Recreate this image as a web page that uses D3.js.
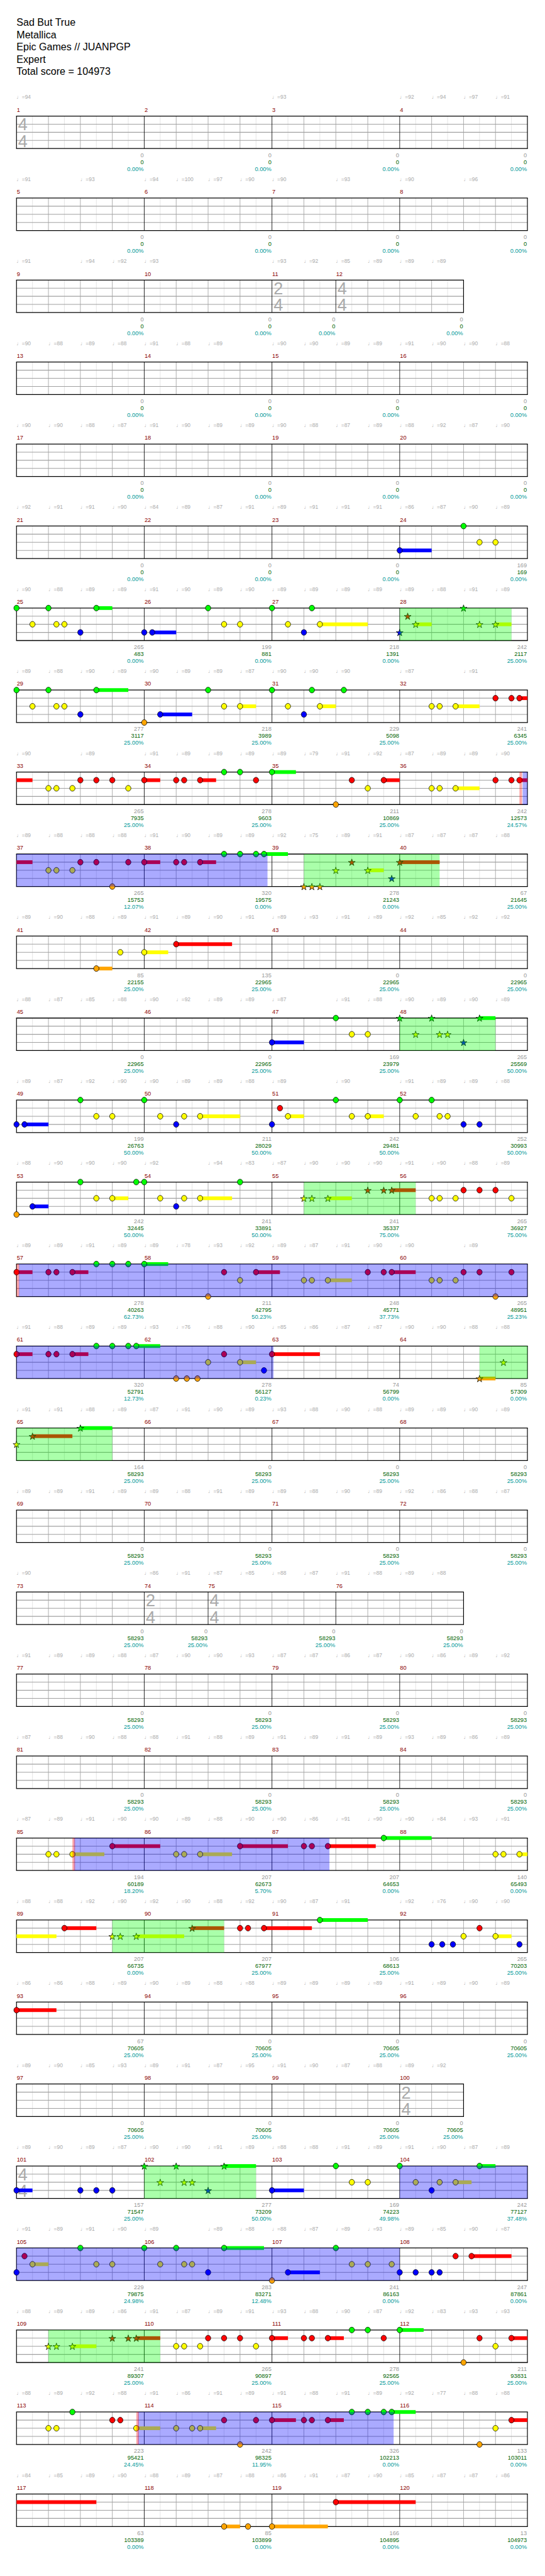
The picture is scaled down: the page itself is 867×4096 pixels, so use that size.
<!DOCTYPE html>
<html><head><meta charset="utf-8">
<script src="https://cdn.jsdelivr.net/npm/d3@7"></script>
<style>body{margin:0;background:#fff}svg{display:block}</style>
</head><body><script>
// ---------------- DATA ----------------
const titleLines = ["Sad But True","Metallica","Epic Games // JUANPGP","Expert","Total score = 104973"];

// [measure, numerator, denominator]
const timeSigs = [[1,4,4],[11,2,4],[12,4,4],[74,2,4],[75,4,4],[100,2,4],[101,4,4]];

// tempo markers per row, one per beat (null = none)
const tempoRows = [
 [94,null,null,null,null,null,null,null,93,null,null,null,92,94,97,91],
 [91,null,93,null,94,100,97,90,90,null,93,null,90,null,96,null],
 [91,null,94,92,93,null,null,null,93,92,85,89,89,89],
 [90,88,89,88,91,88,89,null,90,90,89,89,91,90,90,88],
 [90,90,88,87,91,90,89,89,90,88,87,89,88,92,87,90],
 [92,91,91,90,84,89,87,91,89,91,91,91,86,87,90,89],
 [90,88,89,89,91,90,89,90,89,89,89,89,89,88,91,89],
 [89,88,90,89,90,89,89,87,90,90,90,null,87,null,91,null],
 [90,null,89,null,91,89,89,89,89,79,91,92,87,89,89,90],
 [89,88,88,88,91,90,89,89,92,75,89,91,87,87,87,88],
 [89,90,88,89,91,89,90,91,89,93,91,89,92,85,92,92],
 [88,87,85,88,90,92,89,89,87,null,91,88,90,89,90,89],
 [89,87,92,90,90,89,89,88,89,null,90,null,91,89,89,88],
 [88,90,90,90,92,null,94,83,87,90,90,90,91,90,88,89],
 [89,89,91,89,89,78,93,92,89,87,91,90,90,null,89,null],
 [91,88,89,89,93,76,88,90,85,86,87,87,90,90,88,88],
 [91,91,88,89,87,91,90,89,93,88,90,88,89,89,90,89],
 [89,89,91,89,89,88,91,89,89,88,90,89,92,86,88,87],
 [90,null,null,null,86,91,87,85,88,87,91,88,89,88],
 [91,89,89,88,87,90,90,93,87,87,86,87,90,86,89,92],
 [87,88,90,88,88,91,88,89,91,89,91,89,93,89,86,89],
 [87,89,91,90,90,89,88,90,90,86,91,90,90,84,93,91],
 [88,88,92,90,92,90,88,92,90,87,91,null,92,76,90,90],
 [86,86,88,89,90,89,88,88,89,89,89,89,91,89,90,89],
 [89,90,85,93,89,91,87,95,91,90,87,88,89,92],
 [89,90,89,87,90,90,91,89,88,88,91,89,91,90,87,89],
 [91,89,91,90,89,null,89,88,88,87,89,93,89,85,90,87],
 [88,89,89,86,91,87,89,91,93,88,90,87,92,83,93,93],
 [88,89,92,88,91,86,91,89,91,88,91,89,92,77,88,88],
 [84,85,89,90,88,89,87,88,86,91,87,90,85,87,87,86]
];

// score earned per measure (1..120)
const measureScores = [
 0,0,0,0, 0,0,0,0, 0,0,0,0, 0,0,0,0, 0,0,0,0, 0,0,0,169,
 265,199,218,242, 277,218,229,241, 265,278,211,242, 265,320,278,67,
 85,135,0,0, 0,0,169,265, 199,211,242,252, 242,241,241,265,
 278,211,248,265, 320,278,74,85, 164,0,0,0, 0,0,0,0,
 0,0,0,0, 0,0,0,0, 0,0,0,0, 194,207,207,140,
 207,207,106,265, 67,0,0,0, 0,0,0,0, 157,277,169,242,
 229,283,241,247, 241,265,278,211, 223,242,326,133, 63,85,166,13
];
// cumulative score at end of each measure
const cumulativeScores = [
 0,0,0,0, 0,0,0,0, 0,0,0,0, 0,0,0,0, 0,0,0,0, 0,0,0,169,
 483,881,1391,2117, 3117,3989,5098,6345, 7935,9603,10869,12573, 15753,19575,21243,21645,
 22155,22965,22965,22965, 22965,22965,23979,25569, 26763,28029,29481,30993, 32445,33891,35337,36927,
 40263,42795,45771,48951, 52791,56127,56799,57309, 58293,58293,58293,58293, 58293,58293,58293,58293,
 58293,58293,58293,58293, 58293,58293,58293,58293, 58293,58293,58293,58293, 60189,62673,64653,65493,
 66735,67977,68613,70203, 70605,70605,70605,70605, 70605,70605,70605,70605, 71547,73209,74223,77127,
 79875,83271,86163,87861, 89307,90897,92565,93831, 95421,98325,102213,103011, 103389,103899,104895,104973
];
// star-power meter percentage at end of each measure
const meterPercents = [
 0,0,0,0, 0,0,0,0, 0,0,0,0, 0,0,0,0, 0,0,0,0, 0,0,0,0,
 0,0,0,25, 25,25,25,25, 25,25,25,24.57, 12.07,0,0,25,
 25,25,25,25, 25,25,25,50, 50,50,50,50, 50,50,75,75,
 62.73,50.23,37.73,25.23, 12.73,0.23,0,0, 25,25,25,25, 25,25,25,25,
 25,25,25,25, 25,25,25,25, 25,25,25,25, 18.20,5.70,0,0,
 0,25,25,25, 25,25,25,25, 25,25,25,25, 25,50,49.98,37.48,
 24.98,12.48,0,0, 25,25,25,25, 24.45,11.95,0,0, 0,0,0,0
];

// notes: [measure, beat in measure, lane (0 green .. 4 orange), sustain length in beats]
const notes = [
 [24,0,3,1],[24,2,0,0],[24,2.5,2,0],[24,3,2,0],
 [25,0,0,0],[25,0.5,2,0],[25,1,0,0],[25,1.25,2,0],[25,1.5,2,0],[25,2,3,0],[25,2.5,0,0.5],
 [26,0,3,0],[26,0.25,3,0.75],[26,2,0,0],[26,2.5,2,0],[26,3,2,0],
 [27,0,0,0],[27,0.5,2,0],[27,1,3,0],[27,1.25,0,0],[27,1.5,2,1.5],
 [28,0,3,0],[28,0.25,1,0],[28,0.5,2,0.5],[28,2,0,0],[28,2.5,2,0],[28,3,2,0.5],
 [29,0,0,0],[29,0.5,2,0],[29,1,0,0],[29,1.25,2,0],[29,1.5,2,0],[29,2,3,0],[29,2.5,0,1],
 [30,0,4,0],[30,0.5,3,1],[30,2,0,0],[30,2.5,2,0],[30,3,2,0.5],
 [31,0,0,0],[31,0.5,2,0],[31,1,3,0],[31,1.25,0,0],[31,1.5,2,0.5],[31,2.25,0,0],
 [32,1,2,0],[32,1.25,2,0],[32,1.75,2,0.75],[32,3,1,0],[32,3.5,1,0],[32,3.75,1,0.75],
 [33,1,2,0],[33,1.25,2,0],[33,1.75,2,0],[33,2,1,0],[33,2.5,1,0],[33,3,1,0],[33,3.5,2,0],
 [34,0,1,0.5],[34,1,1,0],[34,1.25,1,0],[34,1.75,1,0.5],[34,2.5,0,0],[34,3,0,0],[34,3.5,1,0],
 [35,0,0,0.75],[35,2,4,0],[35,2.5,1,0],[35,3,2,0],[35,3.5,1,0.5],
 [36,1,2,0],[36,1.25,2,0],[36,1.75,2,0.75],[36,3,1,0],[36,3.5,1,0],[36,3.75,1,0.75],
 [37,1,2,0],[37,1.25,2,0],[37,1.75,2,0],[37,2,1,0],[37,2.5,1,0],[37,3,4,0],[37,3.5,1,0],
 [38,0,1,0.5],[38,1,1,0],[38,1.25,1,0],[38,1.75,1,0.5],[38,2.5,0,0],[38,3,0,0],[38,3.5,0,0],[38,3.75,0,0.75],
 [39,1,4,0],[39,1.25,4,0],[39,1.5,4,0],[39,2,2,0],[39,2.5,1,0],[39,3,2,0.5],[39,3.75,3,0],
 [40,0,1,1.25],
 [41,2.5,4,0.5],[41,3.25,2,0],
 [42,0,2,0.75],[42,1,1,1.75],
 [47,0,3,1],[47,2,0,0],[47,2.5,2,0],[47,3,2,0],
 [48,0,0,0],[48,0.5,2,0],[48,1,0,0],[48,1.25,2,0],[48,1.5,2,0],[48,2,3,0],[48,2.5,0,0.5],
 [49,0,3,0],[49,0.25,3,0.75],[49,2,0,0],[49,2.5,2,0],[49,3,2,0],
 [50,0,0,0],[50,0.5,2,0],[50,1,3,0],[50,1.25,2,0],[50,1.75,2,1.25],
 [51,0,3,0],[51,0.25,1,0],[51,0.5,2,0.5],[51,2,0,0],[51,2.5,2,0],[51,3,2,0.5],
 [52,0,0,0],[52,0.5,2,0],[52,1,0,0],[52,1.25,2,0],[52,1.5,2,0],[52,2,3,0],[52,2.5,3,0],
 [53,0,4,0],[53,0.5,3,0.5],[53,2,0,0],[53,2.5,2,0],[53,3,2,0.5],[53,3.75,0,0],
 [54,0,0,0],[54,0.5,2,0],[54,1,3,0],[54,1.25,2,0],[54,1.75,2,1],[54,3,0,0],
 [55,1,2,0],[55,1.25,2,0],[55,1.75,2,0.75],[55,3,1,0],[55,3.5,1,0],[55,3.75,1,0.75],
 [56,1,2,0],[56,1.25,2,0],[56,1.75,2,0],[56,2,1,0],[56,2.5,1,0],[56,3,1,0],[56,3.5,2,0],
 [57,0,1,0.5],[57,1,1,0],[57,1.25,1,0],[57,1.75,1,0.5],[57,2.5,0,0],[57,3,0,0],[57,3.5,0,0],
 [58,0,0,0.75],[58,2,4,0],[58,2.5,1,0],[58,3,2,0],[58,3.5,1,0.75],
 [59,1,2,0],[59,1.25,2,0],[59,1.75,2,0.75],[59,3,1,0],[59,3.5,1,0],[59,3.75,1,0.75],
 [60,1,2,0],[60,1.25,2,0],[60,1.75,2,0],[60,2,1,0],[60,2.5,1,0],[60,3,4,0],[60,3.5,1,0],
 [61,0,1,0.5],[61,1,1,0],[61,1.25,1,0],[61,1.75,1,0.5],[61,2.5,0,0],[61,3,0,0],[61,3.5,0,0],[61,3.75,0,0.75],
 [62,1,4,0],[62,1.333,4,0],[62,1.667,4,0],[62,2,2,0],[62,2.5,1,0],[62,3,2,0.5],[62,3.75,3,0],
 [63,0,1,1.5],
 [64,2.5,4,0.5],[64,3.25,2,0],
 [65,0,2,0],[65,0.5,1,1.25],[65,2,0,1],
 [85,1,2,0],[85,1.25,2,0],[85,1.75,2,1],[85,3,1,1.5],
 [86,1,2,0],[86,1.25,2,0],[86,1.75,2,1],[86,3,1,1.5],
 [87,1,1,0],[87,1.25,1,0],[87,1.75,1,1.5],[87,3.5,0,1.5],
 [88,3,2,0],[88,3.25,2,0],[88,3.75,2,1.5],
 [89,1.5,1,1],[89,3,2,0],[89,3.25,2,0],[89,3.75,2,1.5],
 [90,1.5,1,1],[90,3,1,0],[90,3.25,1,0],[90,3.75,1,1.5],
 [91,1.5,0,1.5],
 [92,1,3,0],[92,1.333,3,0],[92,1.667,3,0],[92,2,2,0],[92,2.5,1,0],[92,3,2,0.5],[92,3.75,3,0],
 [93,0,1,1.25],
 [101,0,3,0.5],[101,2,3,0],[101,2.5,3,0],[101,3,3,0],
 [102,0,0,0],[102,0.5,2,0],[102,1,0,0],[102,1.25,2,0],[102,1.5,2,0],[102,2,3,0],[102,2.5,0,1],
 [103,0,3,1],[103,2,0,0],[103,2.5,2,0],[103,3,2,0],
 [104,0,0,0],[104,0.5,2,0],[104,1,3,0],[104,1.25,2,0],[104,1.75,2,0.5],[104,2.5,0,0.5],
 [105,0,3,0],[105,0.25,1,0],[105,0.5,2,0.5],[105,2,0,0],[105,2.5,2,0],[105,3,2,0],
 [106,0,0,0],[106,0.5,2,0],[106,1,0,0],[106,1.25,2,0],[106,1.5,2,0],[106,2,3,0],[106,2.5,0,1.25],
 [107,0,4,0],[107,0.5,3,1],[107,2,0,0],[107,2.5,2,0],[107,3,2,0],[107,3.75,2,0],
 [108,0,3,0],[108,0.5,3,0],[108,1,3,0],[108,1.25,3,0],[108,1.75,1,0],[108,2.25,1,1.25],
 [109,1,2,0],[109,1.25,2,0],[109,1.75,2,0.75],[109,3,1,0],[109,3.5,1,0],[109,3.75,1,0.75],
 [110,1,2,0],[110,1.25,2,0],[110,1.75,2,0],[110,2,1,0],[110,2.5,1,0],[110,3,1,0],[110,3.5,2,0],
 [111,0,1,0.5],[111,1,1,0],[111,1.25,1,0],[111,1.75,1,0.5],[111,2.5,0,0],[111,3,0,0],[111,3.5,1,0],
 [112,0,0,0.75],[112,2,4,0],[112,2.5,1,0],[112,3,2,0],[112,3.5,1,0.5],
 [113,1,2,0],[113,1.25,2,0],[113,1.75,0,0],[113,3,1,0],[113,3.25,1,0],[113,3.75,2,0.75],
 [114,1,2,0],[114,1.5,2,0],[114,1.75,2,0.5],[114,2.5,1,0],[114,3,4,0],[114,3.5,1,0],
 [115,0,1,0.75],[115,1,1,0],[115,1.25,1,0],[115,1.75,1,0.5],[115,2.5,0,0],[115,3,0,0],[115,3.5,0,0],[115,3.75,0,0.75],
 [116,2.5,4,0],[116,3,2,0],[116,3.5,1,3],
 [118,2.5,4,0.5],[118,3.25,4,0],[119,0,4,1.75],[119,2,1,2.5]
];

// star power phrases: [startMeasure, startBeat, endMeasure, endBeat]
const starPhrases = [[28,0,28,3.5],[39,1,40,1.25],[48,0,48,3],[55,1,56,0.5],[64,2.5,65,3],[89,3,90,2.5],[102,0,102,3.5],[109,1,110,0.5]];
// star power activations (blue): [startMeasure, startBeat, endMeasure, endBeat]
const activations = [[36,3.85,38,3.86],[57,0.07,63,0.05],[85,1.8,87,1.8],[104,0,108,0],[113,3.8,115,3.81]];
// activation trigger points (pink marks): [measure, beat]
const triggers = [[36,3.75],[57,0],[85,1.75],[113,3.75]];

const laneColors = ["#00ff00","#ff0000","#ffff00","#0000ff","#ffa500"];

// ---------------- LAYOUT ----------------
const W = 1024, H = 4838;
const X0 = 31, BEAT = 60, ROW_TOP = 218, ROW_GAP = 154, STAFF_H = 61;
const FONT = "'Liberation Sans', Arial, sans-serif";

const svg = d3.select("body").append("svg")
  .attr("width", 867).attr("height", 4096)
  .attr("viewBox", `0 0 ${W} ${H}`);
svg.append("rect").attr("width", W).attr("height", H).attr("fill", "#fff");

// measure lengths & starts
const sigMap = new Map(timeSigs.map(d => [d[0], d]));
const mLen = [], mStart = [];
{ let num = 4, acc = 0;
  for (let m = 1; m <= 120; m++) { if (sigMap.has(m)) num = sigMap.get(m)[1]; mLen[m] = num; mStart[m] = acc; acc += num; } }
const gt = (m, b) => mStart[m] + b;

const noteObjs = notes.map(([m,b,lane,len]) => ({t: gt(m,b), lane, len}));
const spRanges = starPhrases.map(d => [gt(d[0],d[1]), gt(d[2],d[3])]);
const odRanges = activations.map(d => [gt(d[0],d[1]), gt(d[2],d[3])]);
const trigT = triggers.map(d => gt(d[0],d[1]));
const isStar = t => spRanges.some(([s,e]) => t >= s - 1e-6 && t < e - 1e-6);

// title
svg.append("g").selectAll("text").data(titleLines).join("text")
  .attr("x", X0).attr("y", (d,i) => 49 + i*23)
  .attr("font-family", FONT).attr("font-size", 19).attr("fill", "#000")
  .text(d => d);

const starSym = d3.symbol().type(d3.symbolStar).size(52);

for (let r = 0; r < 30; r++) {
  const ms = [4*r+1, 4*r+2, 4*r+3, 4*r+4];
  const rs = mStart[ms[0]], re = mStart[ms[3]] + mLen[ms[3]];
  const T = ROW_TOP + ROW_GAP*r;
  const x = d3.scaleLinear().domain([rs, rs+16]).range([X0, X0 + 16*BEAT]);
  const y = d3.scaleLinear().domain([0, 4]).range([T, T + STAFF_H]);
  const g = svg.append("g");

  // tempo markers
  g.append("g").selectAll("text")
    .data(tempoRows[r].map((v,i) => ({v, i})).filter(d => d.v !== null))
    .join("text")
    .attr("x", d => x(rs + d.i)).attr("y", T - 32)
    .attr("font-family", FONT).attr("font-size", 10).attr("fill", "#aaaaaa")
    .text(d => "\u2669=" + d.v);

  // measure numbers
  g.append("g").selectAll("text").data(ms).join("text")
    .attr("x", m => x(mStart[m]) + 0.5).attr("y", T - 8)
    .attr("font-family", FONT).attr("font-size", 11).attr("fill", "#8b0000")
    .text(m => m);

  // grid
  const n8 = Math.round((re - rs) * 2);
  const eighths = d3.range(1, n8).map(i => rs + i/2);
  const light = eighths.filter(t => Math.abs(t - Math.round(t)) > 1e-6);
  const mStarts = new Set(ms.map(m => mStart[m]));
  const beats = eighths.filter(t => Math.abs(t - Math.round(t)) < 1e-6 && !mStarts.has(t));
  const grid = g.append("g");
  grid.selectAll(".l8").data(light).join("line")
    .attr("x1", t => x(t)).attr("x2", t => x(t)).attr("y1", T).attr("y2", T + STAFF_H)
    .attr("stroke", "#e0e0e0").attr("stroke-width", 1);
  grid.selectAll(".lb").data(beats).join("line")
    .attr("x1", t => x(t)).attr("x2", t => x(t)).attr("y1", T).attr("y2", T + STAFF_H)
    .attr("stroke", "#a0a0a0").attr("stroke-width", 1);
  grid.selectAll(".ln").data([1,2,3]).join("line")
    .attr("x1", x(rs)).attr("x2", x(re)).attr("y1", d => y(d)).attr("y2", d => y(d))
    .attr("stroke", "#a0a0a0").attr("stroke-width", 1.3);
  grid.selectAll(".lm").data([...mStarts, re]).join("line")
    .attr("x1", t => x(t)).attr("x2", t => x(t)).attr("y1", T).attr("y2", T + STAFF_H)
    .attr("stroke", "#000").attr("stroke-width", t => (t === rs || t === re) ? 1.4 : 1);
  grid.selectAll(".lbord").data([0,4]).join("line")
    .attr("x1", x(rs) - 0.7).attr("x2", x(re) + 0.7).attr("y1", d => y(d)).attr("y2", d => y(d))
    .attr("stroke", "#000").attr("stroke-width", 1.5);

  // time signatures
  const sigs = timeSigs.filter(d => ms.includes(d[0]) && !(d[0] === 1 && false));
  const sg = g.append("g").attr("font-family", FONT).attr("font-size", 32).attr("fill", "#aaaaaa");
  sigs.forEach(d => {
    sg.append("text").attr("x", x(mStart[d[0]]) + 3).attr("y", T + 27).text(d[1]);
    sg.append("text").attr("x", x(mStart[d[0]]) + 3).attr("y", T + 58).text(d[2]);
  });

  // sustains (clipped to row)
  const sus = noteObjs.filter(n => n.len > 0 && n.t < re && n.t + n.len > rs);
  g.append("g").selectAll("rect").data(sus).join("rect")
    .attr("x", n => x(Math.max(n.t, rs)))
    .attr("width", n => x(Math.min(n.t + n.len, re)) - x(Math.max(n.t, rs)))
    .attr("y", n => y(n.lane) - 3.5).attr("height", 7)
    .attr("fill", n => laneColors[n.lane]);

  // notes
  const rowNotes = noteObjs.filter(n => n.t >= rs - 1e-6 && n.t < re - 1e-6);
  const ng = g.append("g");
  ng.selectAll("ellipse").data(rowNotes.filter(n => !isStar(n.t))).join("ellipse")
    .attr("cx", n => x(n.t)).attr("cy", n => y(n.lane)).attr("rx", 5).attr("ry", 5.4)
    .attr("fill", n => laneColors[n.lane]).attr("stroke", "#000").attr("stroke-width", 0.9);
  ng.selectAll("path").data(rowNotes.filter(n => isStar(n.t))).join("path")
    .attr("transform", n => `translate(${x(n.t)},${y(n.lane) + 0.8})`)
    .attr("d", starSym)
    .attr("fill", n => laneColors[n.lane]).attr("stroke", "#000").attr("stroke-width", 0.9);

  // overlays
  const clip = arr => arr.filter(([s,e]) => s < re && e > rs).map(([s,e]) => [Math.max(s,rs), Math.min(e,re)]);
  const og = g.append("g");
  og.selectAll(".sp").data(clip(spRanges)).join("rect")
    .attr("x", d => x(d[0])).attr("width", d => x(d[1]) - x(d[0]))
    .attr("y", T).attr("height", STAFF_H).attr("fill", "#00ff00").attr("fill-opacity", 1/3);
  og.selectAll(".od").data(clip(odRanges)).join("rect")
    .attr("x", d => x(d[0])).attr("width", d => x(d[1]) - x(d[0]))
    .attr("y", T).attr("height", STAFF_H).attr("fill", "#0000ff").attr("fill-opacity", 1/3);
  og.selectAll(".tr").data(trigT.filter(t => t >= rs && t < re)).join("rect")
    .attr("x", t => x(t)).attr("width", 5)
    .attr("y", T).attr("height", STAFF_H).attr("fill", "#ff0000").attr("fill-opacity", 1/3);

  // scores under measures
  const sc = g.append("g").attr("font-family", FONT).attr("font-size", 11).attr("text-anchor", "end");
  sc.selectAll(".s1").data(ms).join("text")
    .attr("x", m => x(mStart[m] + mLen[m]) - 1).attr("y", T + 77).attr("fill", "#999999")
    .text(m => measureScores[m-1]);
  sc.selectAll(".s2").data(ms).join("text")
    .attr("x", m => x(mStart[m] + mLen[m]) - 1).attr("y", T + 90).attr("fill", "#006400")
    .text(m => cumulativeScores[m-1]);
  sc.selectAll(".s3").data(ms).join("text")
    .attr("x", m => x(mStart[m] + mLen[m]) - 1).attr("y", T + 103).attr("fill", "#009999")
    .text(m => meterPercents[m-1].toFixed(2) + "%");
}
</script></body></html>
